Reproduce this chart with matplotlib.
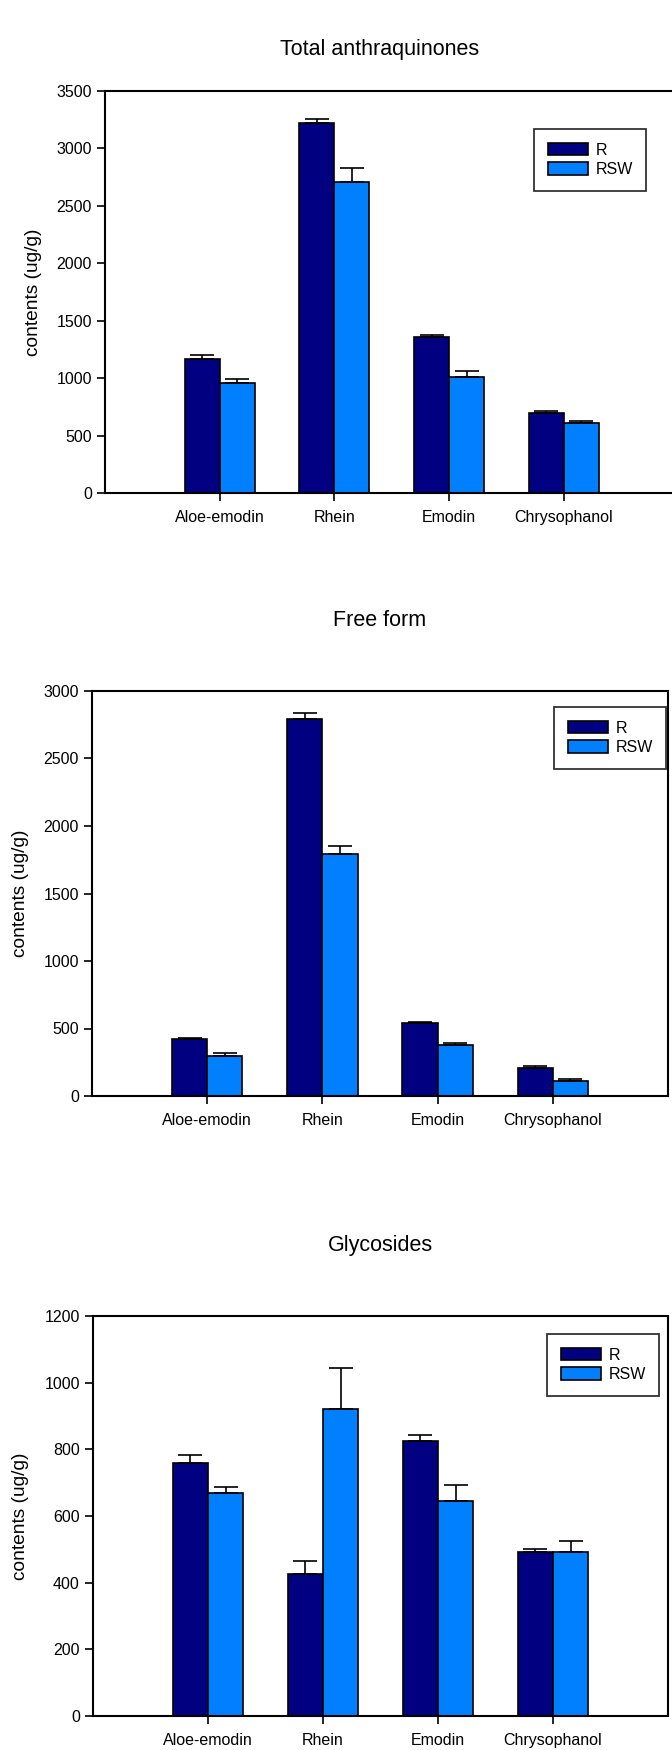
import matplotlib.pyplot as plt
import numpy as np

plt.rcParams['font.family'] = ['Liberation Sans', 'DejaVu Sans']

# --------------------------------------------------------------------------------
#                                 Data
# --------------------------------------------------------------------------------
compounds = ['Aloe-emodin', 'Rhein', 'Emodin', 'Chrysophanol']
series_names = ['R', 'RSW']

total_R = [1170, 3220, 1360, 700]
total_R_err = [35, 35, 15, 17]
total_RSW = [960, 2710, 1012, 609]
total_RSW_err = [35, 120, 50, 20]

free_R = [420, 2790, 540, 210]
free_R_err = [10, 45, 5, 15]
free_RSW = [300, 1790, 375, 108]
free_RSW_err = [15, 60, 15, 15]

glyco_R = [759, 426, 825, 491]
glyco_R_err = [24, 40, 18, 11]
glyco_RSW = [669, 920, 645, 491]
glyco_RSW_err = [18, 124, 48, 35]

W, H = 672, 1750
dark_blue = '#000080'
light_blue = '#0080ff'


def px_rect(left, right, top, bottom):
    """Convert pixel box (from top-left) to figure fraction rect."""
    return [left / W, 1 - bottom / H, (right - left) / W, (bottom - top) / H]


def draw_panel(fig, rect, title, title_y, ylab_x, r_vals, r_err, rsw_vals, rsw_err,
               ymax, ystep, legend_box):
    ax = fig.add_axes(rect)
    x = np.arange(1, len(compounds) + 1)
    w = 0.305
    ax.bar(x - w / 2, r_vals, w, color=dark_blue, edgecolor='black', linewidth=1.2,
           label=series_names[0], zorder=2)
    ax.bar(x + w / 2, rsw_vals, w, color=light_blue, edgecolor='black', linewidth=1.2,
           label=series_names[1], zorder=2)
    # only the upper half of the error bars is drawn
    ax.errorbar(x - w / 2, r_vals, yerr=[np.zeros(4), r_err], fmt='none',
                ecolor='black', elinewidth=1.2, capsize=8.5, capthick=1.2, zorder=3)
    ax.errorbar(x + w / 2, rsw_vals, yerr=[np.zeros(4), rsw_err], fmt='none',
                ecolor='black', elinewidth=1.2, capsize=8.5, capthick=1.2, zorder=3)

    ax.set_xlim(0, 5)
    ax.set_ylim(0, ymax)
    ax.set_yticks(np.arange(0, ymax + 1, ystep))
    ax.set_xticks(x)
    ax.set_xticklabels(compounds)
    ax.tick_params(axis='both', direction='out', length=6, width=1.2, labelsize=11.5)
    ax.tick_params(axis='x', pad=6)
    for s in ax.spines.values():
        s.set_linewidth(1.5)

    mid = rect[1] + rect[3] / 2
    fig.text(ylab_x / W, mid, 'contents (ug/g)', rotation=90,
             ha='center', va='center', fontsize=13.8)
    fig.text(380 / W, 1 - title_y / H, title, ha='center', va='center', fontsize=15.5)

    lx, ly = legend_box
    leg = ax.legend(loc='upper left', bbox_to_anchor=(lx / W, 1 - ly / H),
                    bbox_transform=fig.transFigure, fontsize=11.5, frameon=True,
                    fancybox=False, edgecolor='black', handlelength=2.5,
                    handleheight=0.85, handletextpad=0.5, labelspacing=0.3,
                    borderpad=0.85, borderaxespad=0)
    leg.get_frame().set_linewidth(1.3)
    return ax


fig = plt.figure(figsize=(W / 100, H / 100), dpi=100)

draw_panel(fig, px_rect(105, 678.5, 91, 493), 'Total anthraquinones', 50, 34,
           total_R, total_R_err, total_RSW, total_RSW_err, 3500, 500, (534, 129))
draw_panel(fig, px_rect(92, 668, 691, 1096), 'Free form', 621, 21,
           free_R, free_R_err, free_RSW, free_RSW_err, 3000, 500, (554, 707))
draw_panel(fig, px_rect(93, 668, 1316, 1716), 'Glycosides', 1245, 21,
           glyco_R, glyco_R_err, glyco_RSW, glyco_RSW_err, 1200, 200, (547, 1334))

fig.savefig('out.png', dpi=100)
